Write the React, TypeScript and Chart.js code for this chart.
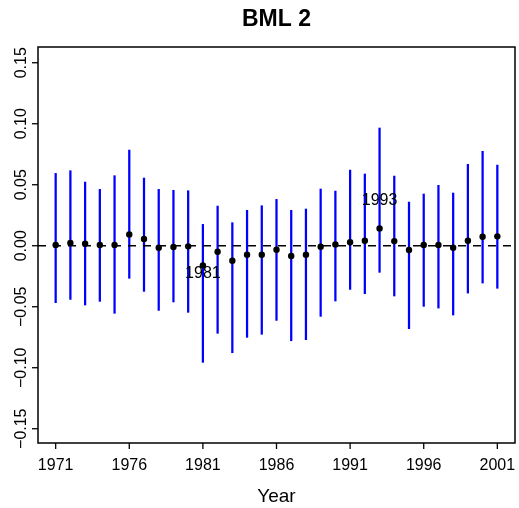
import React, { useEffect, useRef } from "react";
import { Chart, registerables } from "chart.js";

Chart.register(...registerables);

// Yearly estimates with their interval bounds
const years = [
  1971, 1972, 1973, 1974, 1975, 1976, 1977, 1978, 1979, 1980,
  1981, 1982, 1983, 1984, 1985, 1986, 1987, 1988, 1989, 1990,
  1991, 1992, 1993, 1994, 1995, 1996, 1997, 1998, 1999, 2000, 2001,
];
const estimates = [
  0.0006, 0.0022, 0.0017, 0.0006, 0.0006, 0.0093, 0.0055, -0.0016, -0.0011, -0.0005,
  -0.0161, -0.0049, -0.0123, -0.0074, -0.0074, -0.0033, -0.0084, -0.0074, -0.0008, 0.0011,
  0.0028, 0.0041, 0.0142, 0.0038, -0.0035, 0.0006, 0.0006, -0.0016, 0.0041, 0.0074, 0.0077,
];
const upper = [
  0.0593, 0.0615, 0.0522, 0.0462, 0.0574, 0.0784, 0.0555, 0.0462, 0.0454, 0.0451,
  0.0175, 0.0325, 0.0189, 0.029, 0.0328, 0.038, 0.029, 0.0301, 0.0465, 0.0448,
  0.062, 0.0588, 0.0965, 0.0571, 0.0358, 0.0424, 0.0495, 0.0432, 0.0667, 0.0774, 0.0661,
];
const lower = [
  -0.0467, -0.044, -0.0486, -0.0456, -0.0554, -0.0267, -0.0374, -0.053, -0.0461, -0.0546,
  -0.0956, -0.0718, -0.0877, -0.0751, -0.0726, -0.0612, -0.0779, -0.077, -0.0579, -0.0453,
  -0.0358, -0.0393, -0.0218, -0.0412, -0.068, -0.0497, -0.0511, -0.0568, -0.0388, -0.0306, -0.0349,
];

// Axis ticks
const xTicks = [1971, 1976, 1981, 1986, 1991, 1996, 2001];
const yTicks = [-0.15, -0.1, -0.05, 0, 0.05, 0.1, 0.15];
const yTickLabels = ["\u22120.15", "\u22120.10", "\u22120.05", "0.00", "0.05", "0.10", "0.15"];

// Annotated years and where their labels sit
const noteYears = [1981, 1993];
const noteY = [-0.023, 0.037];
const noteText = ["1981", "1993"];

const X_MIN = 1969.8;
const X_MAX = 2002.2;
const Y_MIN = -0.1617;
const Y_MAX = 0.1629;

const FONT = '"Liberation Sans", Arial, Helvetica, sans-serif';

const frame = {
  id: "rFrame",
  afterDraw(chart: any) {
    const { ctx, chartArea: a, scales } = chart;
    const xs = scales.x;
    const ys = scales.y;
    ctx.save();
    ctx.strokeStyle = "#000";
    ctx.fillStyle = "#000";
    ctx.lineWidth = 1.5;
    ctx.strokeRect(a.left, a.top, a.right - a.left, a.bottom - a.top);

    // x axis
    ctx.font = `16px ${FONT}`;
    ctx.textAlign = "center";
    ctx.textBaseline = "alphabetic";
    ctx.lineWidth = 1.3;
    xTicks.forEach((v) => {
      const px = xs.getPixelForValue(v);
      ctx.beginPath();
      ctx.moveTo(px, a.bottom);
      ctx.lineTo(px, a.bottom + 6);
      ctx.stroke();
      ctx.fillText(String(v), px, 470);
    });

    // y axis, labels read bottom to top
    yTicks.forEach((v, i) => {
      const py = ys.getPixelForValue(v);
      ctx.beginPath();
      ctx.moveTo(a.left, py);
      ctx.lineTo(a.left - 6, py);
      ctx.stroke();
      ctx.save();
      ctx.translate(26, py);
      ctx.rotate(-Math.PI / 2);
      ctx.fillText(yTickLabels[i], 0, 0);
      ctx.restore();
    });

    // point annotations
    ctx.textBaseline = "middle";
    noteYears.forEach((yr, i) => {
      ctx.fillText(noteText[i], xs.getPixelForValue(yr), ys.getPixelForValue(noteY[i]));
    });

    // axis title and main title
    ctx.textBaseline = "alphabetic";
    ctx.font = `19px ${FONT}`;
    ctx.fillText("Year", (a.left + a.right) / 2, 502);
    ctx.font = `bold 23px ${FONT}`;
    ctx.fillText("BML 2", (a.left + a.right) / 2, 26);
    ctx.restore();
  },
};

export default function App() {
  const ref = useRef<HTMLCanvasElement | null>(null);

  useEffect(() => {
    if (!ref.current) return;
    const chart = new Chart(ref.current, {
      type: "bar",
      data: {
        datasets: [
          {
            type: "line",
            label: "estimate",
            data: years.map((x, i) => ({ x, y: estimates[i] })),
            showLine: false,
            pointRadius: 3.2,
            pointBackgroundColor: "#000",
            pointBorderWidth: 0,
            order: 0,
          } as any,
          {
            type: "line",
            label: "zero",
            data: [
              { x: X_MIN, y: 0 },
              { x: X_MAX, y: 0 },
            ],
            borderColor: "#000",
            borderWidth: 1.4,
            borderDash: [8, 7],
            pointRadius: 0,
            order: 1,
          } as any,
          {
            type: "bar",
            label: "interval",
            data: years.map((x, i) => ({ x, y: [lower[i], upper[i]] })),
            backgroundColor: "#0000ff",
            borderWidth: 0,
            barThickness: 1.6,
            order: 2,
          } as any,
        ],
      },
      options: {
        responsive: false,
        animation: false,
        devicePixelRatio: 1,
        layout: { padding: { left: 38, top: 47, right: 2, bottom: 65 } },
        plugins: { legend: { display: false }, tooltip: { enabled: false }, title: { display: false } },
        scales: {
          x: { type: "linear", min: X_MIN, max: X_MAX, display: false, offset: false },
          y: { type: "linear", min: Y_MIN, max: Y_MAX, display: false },
        },
      },
      plugins: [frame],
    });
    return () => chart.destroy();
  }, []);

  return (
    <div style={{ position: "fixed", left: 0, top: 0, width: 519, height: 508, background: "#fff" }}>
      <canvas ref={ref} width={519} height={508} style={{ width: 519, height: 508 }} />
    </div>
  );
}
